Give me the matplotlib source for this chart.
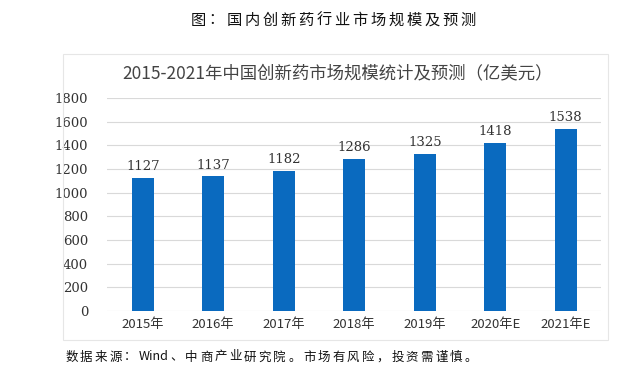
import re
import matplotlib.pyplot as plt
from matplotlib.patches import Rectangle

plt.rcParams['font.family'] = ['Noto Sans CJK SC', 'DejaVu Sans']

years = ['2015年', '2016年', '2017年', '2018年', '2019年', '2020年E', '2021年E']
values = [1127, 1137, 1182, 1286, 1325, 1418, 1538]
yticks = [0, 200, 400, 600, 800, 1000, 1200, 1400, 1600, 1800]

W, H = 618, 378
fig = plt.figure(figsize=(W / 100, H / 100), dpi=100)


def spaced_text(s, x0, y, step, latin_step, **kw):
    # place characters one by one to mimic the wide letter spacing;
    # runs of latin letters stay together as one word
    x = x0
    for tok in re.findall(r'[ -~]+|.', s):
        w = latin_step * len(tok) if ord(tok[0]) < 128 else step
        fig.text((x + w / 2) / W, 1 - y / H, tok, ha='center', va='center', **kw)
        x += w


# light frame around the inner chart
fig.patches.append(Rectangle((63 / W, 1 - 340 / H), (608 - 63) / W, (340 - 54) / H,
                             transform=fig.transFigure, fill=False,
                             edgecolor='#e6e6e6', linewidth=0.8))

ax = fig.add_axes([107.5 / W, 1 - 311 / H, (601 - 107.5) / W, (311 - 98) / H])
x = range(len(years))
ax.bar(x, values, width=0.31, color='#0a6abf', zorder=3)
for i, v in zip(x, values):
    ax.text(i, v + 40, str(v), ha='center', va='bottom', fontsize=9.5, color='#333333',
            family=['DejaVu Serif'])

ax.set_ylim(0, 1800)
ax.set_xlim(-0.5, len(years) - 0.5)
ax.set_yticks(yticks)
ax.set_yticklabels([str(t) for t in yticks], family=['DejaVu Serif'])
ax.set_xticks(list(x))
ax.set_xticklabels(years)
ax.tick_params(axis='both', length=0, labelsize=9.5, colors='#333333')
ax.tick_params(axis='y', pad=14)
ax.tick_params(axis='x', pad=5)
ax.grid(axis='y', color='#d9d9d9', linewidth=0.8, zorder=0)
for s in ax.spines.values():
    s.set_visible(False)

spaced_text('图：国内创新药行业市场规模及预测', 189, 20, 18.0, 9.0,
            fontsize=11, color='#111111')
fig.text(338 / W, 1 - 73 / H, '2015-2021年中国创新药市场规模统计及预测（亿美元）', ha='center',
         va='center', fontsize=12.5, color='#444444')
spaced_text('数据来源：Wind、中商产业研究院。市场有风险，投资需谨慎。', 64, 357, 14.7, 8.0,
            fontsize=9, color='#111111')

fig.savefig('out.png', dpi=100)
